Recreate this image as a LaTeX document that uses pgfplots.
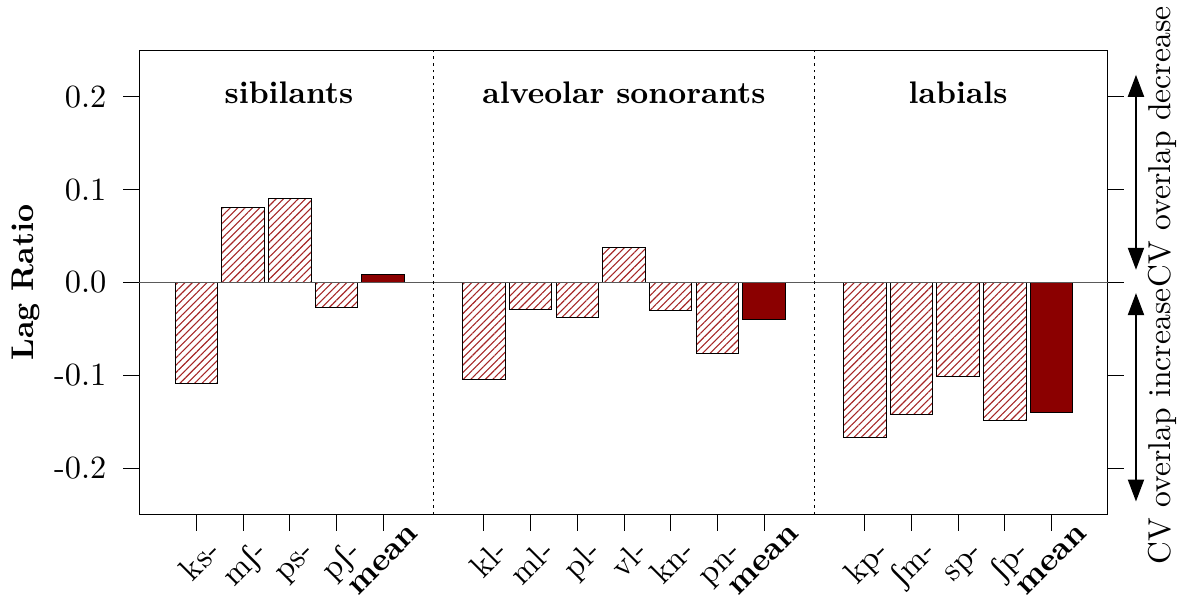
\documentclass[border=0pt]{standalone}
\usepackage{pgfplots}
\usepackage{pgfplotstable}
\pgfplotsset{compat=1.18}
\usepackage{fontspec}
\setmainfont{lmroman10-regular.otf}[BoldFont=lmroman10-bold.otf]
\newfontfamily\ipafont{Liberation Serif}
\usetikzlibrary{patterns.meta,arrows.meta}
\definecolor{meanred}{RGB}{139,0,0}
\definecolor{hatchred}{RGB}{165,38,38}
\definecolor{zerogray}{RGB}{90,90,90}
\newcommand{\esh}{{\ipafont ʃ}}
\newcommand{\meanlab}{\raisebox{2.4pt}{\textbf{mean}}\kern-10.3pt}

\pgfplotstableread{
x y
0 -0.109
1 0.0803
2 0.0903
3 -0.0272
6.16 -0.104
7.16 -0.0295
8.16 -0.038
9.16 0.0373
10.16 -0.0298
11.16 -0.0765
14.32 -0.167
15.32 -0.142
16.32 -0.1015
17.32 -0.1484
}\hatchedbars

\pgfplotstableread{
x y
4 0.0083
12.16 -0.040
18.32 -0.1398
}\meanbars

\begin{document}
\fontsize{16.2}{19}\selectfont
\begin{tikzpicture}[font=\fontsize{16.2}{19}\selectfont]
\path[use as bounding box] (0,0) rectangle (590.5pt,300pt);
\begin{axis}[
  at={(69.65pt,42.75pt)}, anchor=south west,
  scale only axis, width=484.1pt, height=232pt,
  xmin=-1.2257, xmax=19.52, ymin=-0.25, ymax=0.25,
  axis line style={line width=0.5pt},
  tick align=outside, major tick length=8pt,
  tick style={black, line width=0.5pt},
  xtick pos=lower, ytick pos=both, yticklabel pos=left,
  xtick={0,1,2,3,4,6.16,7.16,8.16,9.16,10.16,11.16,12.16,14.32,15.32,16.32,17.32,18.32},
  xticklabels={ks-, m\esh-, ps-, p\esh-, {\meanlab},
    kl-, ml-, pl-, vl-, kn-, pn-, {\meanlab},
    kp-, \esh m-, sp-, \esh p-, {\meanlab}},
  ytick={-0.2,-0.1,0,0.1,0.2},
  yticklabels={-0.2,-0.1,0.0,0.1,0.2},
  xticklabel style={inner sep=0pt, xshift=12.75pt, yshift=-11.25pt, rotate=45, anchor=base east},
  yticklabel style={inner sep=0pt, anchor=east, xshift=-8.3pt},
  ylabel={\textbf{Lag Ratio}},
  ylabel style={at={(axis description cs:-0.117,0.5)}, anchor=center, font=\fontsize{15.7}{19}\selectfont},
  clip=false,
]
\addplot[ybar, bar shift=0pt, bar width=0.91, draw=black, line width=0.5pt,
  pattern={Lines[angle=45,distance=2.6pt,line width=0.55pt]}, pattern color=hatchred]
  table[x=x,y=y] {\hatchedbars};
\addplot[ybar, bar shift=0pt, bar width=0.91, draw=black, line width=0.5pt, fill=meanred]
  table[x=x,y=y] {\meanbars};
\draw[zerogray, line width=0.6pt] (axis cs:-1.2257,0) -- (axis cs:19.52,0);
\draw[black, line width=0.6pt, dash pattern=on 1.3pt off 2pt] (axis cs:5.08,-0.25) -- (axis cs:5.08,0.25);
\draw[black, line width=0.6pt, dash pattern=on 1.3pt off 2pt] (axis cs:13.24,-0.25) -- (axis cs:13.24,0.25);
\node[anchor=base, inner sep=0pt, font=\fontsize{15.6}{19}\selectfont] at (axis cs:1.98,0.1926) {\textbf{sibilants}};
\node[anchor=base, inner sep=0pt, font=\fontsize{15.6}{19}\selectfont] at (axis cs:9.16,0.1926) {\textbf{alveolar sonorants}};
\node[anchor=base, inner sep=0pt, font=\fontsize{15.6}{19}\selectfont] at (axis cs:16.32,0.1926) {\textbf{labials}};
\draw[{Triangle[length=11pt,width=8pt]}-{Triangle[length=11pt,width=8pt]}, line width=1pt]
  (axis cs:20.13,0.0137) -- (axis cs:20.13,0.2238);
\draw[{Triangle[length=11pt,width=8pt]}-{Triangle[length=11pt,width=8pt]}, line width=1pt]
  (axis cs:20.13,-0.0114) -- (axis cs:20.13,-0.236);
\node[rotate=90, anchor=base west, inner sep=0pt, font=\fontsize{15.8}{19}\selectfont]
  at (axis cs:20.86,-0.006) {CV overlap decrease};
\node[rotate=90, anchor=base east, inner sep=0pt, font=\fontsize{15.8}{19}\selectfont]
  at (axis cs:20.86,-0.006) {CV overlap increase};
\end{axis}
\end{tikzpicture}
\end{document}
